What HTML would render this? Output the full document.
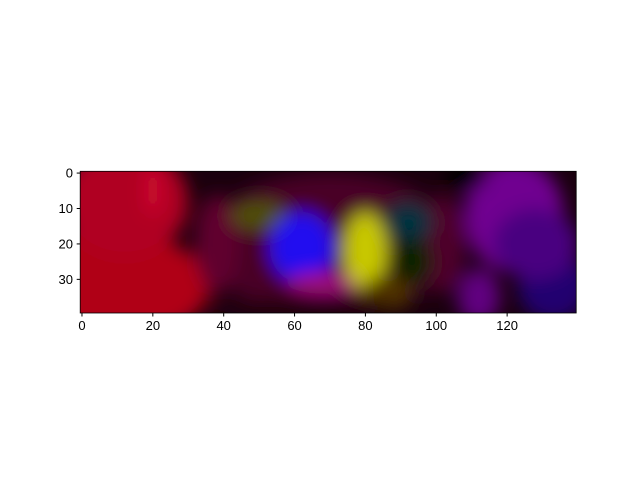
<!DOCTYPE html>
<html><head><meta charset="utf-8"><style>
body{margin:0;background:#fff;width:640px;height:480px;overflow:hidden;font-family:"Liberation Sans",sans-serif}
</style></head><body>
<svg id="chart" width="640" height="480" xmlns="http://www.w3.org/2000/svg">
<defs>
<clipPath id="clip"><rect x="80.2" y="171.3" width="496" height="141.7"/></clipPath>
<filter id="blur" x="-50%" y="-50%" width="200%" height="200%"><feGaussianBlur stdDeviation="9"/></filter>
</defs>
<g id="img" clip-path="url(#clip)"></g>
<g id="axes"></g>
</svg>
<script>
const blobX=[6,22,12,20,70,38,102,50,62,68,80,92,93,86,122,133,108,62,112,128];
const blobY=[32,6,8,5,20,20,20,12,21,31,22,14,25,34,12,32,1,38,35,20];
const blobRX=[30,7,18,2,36,6,6,8,9,10,6,7,6,7,14,10,6,26,6,12];
const blobRY=[16,7,16,7,20,14,14,4,10,3,11,6,7,5,16,10,4,3,8,10];
const blobColor=['#b00018','#000000','#b00020','#d01030','#4a0025','#60002e','#50002a','#505000','#2010f0','#a0107a','#c8c800','#003040','#102000','#503000','#700090','#200070','#000000','#200010','#600080','#4a0080'];
const xTicks=[0,20,40,60,80,100,120];
const yTicks=[0,10,20,30];
const NS='http://www.w3.org/2000/svg';
const x0=80.2,y0=171.3,s=3.543;
function X(u){return x0+(u+0.5)*s;}
function Y(v){return y0+(v+0.5)*s;}
const img=document.getElementById('img');
const bg=document.createElementNS(NS,'rect');
bg.setAttribute('x',x0);bg.setAttribute('y',y0);bg.setAttribute('width',496);bg.setAttribute('height',141.7);bg.setAttribute('fill','#1a000e');


img.appendChild(bg);
const g=document.createElementNS(NS,'g');g.setAttribute('filter','url(#blur)');img.appendChild(g);
blobX.forEach((bx,i)=>{
 const e=document.createElementNS(NS,'ellipse');
 e.setAttribute('cx',X(bx));e.setAttribute('cy',Y(blobY[i]));
 e.setAttribute('rx',blobRX[i]*s);e.setAttribute('ry',blobRY[i]*s);
 e.setAttribute('fill',blobColor[i]);
 
 
 g.appendChild(e);
});
const ax=document.getElementById('axes');
const fr=document.createElementNS(NS,'rect');
fr.setAttribute('x',x0);fr.setAttribute('y',y0);fr.setAttribute('width',496);fr.setAttribute('height',141.7);fr.setAttribute('fill','none');fr.setAttribute('stroke','#000');fr.setAttribute('stroke-width','0.8');


ax.appendChild(fr);
xTicks.forEach(t=>{
 const l=document.createElementNS(NS,'line');
 l.setAttribute('x1',X(t));l.setAttribute('x2',X(t));l.setAttribute('y1',313);l.setAttribute('y2',316.5);l.setAttribute('stroke','#000');
 
 
 ax.appendChild(l);
 const tx=document.createElementNS(NS,'text');
 tx.setAttribute('x',X(t));tx.setAttribute('y',330);tx.setAttribute('text-anchor','middle');tx.setAttribute('font-size','13');tx.textContent=t;
 
 
 ax.appendChild(tx);
});
yTicks.forEach(t=>{
 const l=document.createElementNS(NS,'line');
 l.setAttribute('x1',76.7);l.setAttribute('x2',x0);l.setAttribute('y1',Y(t));l.setAttribute('y2',Y(t));l.setAttribute('stroke','#000');
 
 
 ax.appendChild(l);
 const tx=document.createElementNS(NS,'text');
 tx.setAttribute('x',73);tx.setAttribute('y',Y(t)+4.5);tx.setAttribute('text-anchor','end');tx.setAttribute('font-size','13');tx.textContent=t;
 
 
 ax.appendChild(tx);
});
</script>
</body></html>
